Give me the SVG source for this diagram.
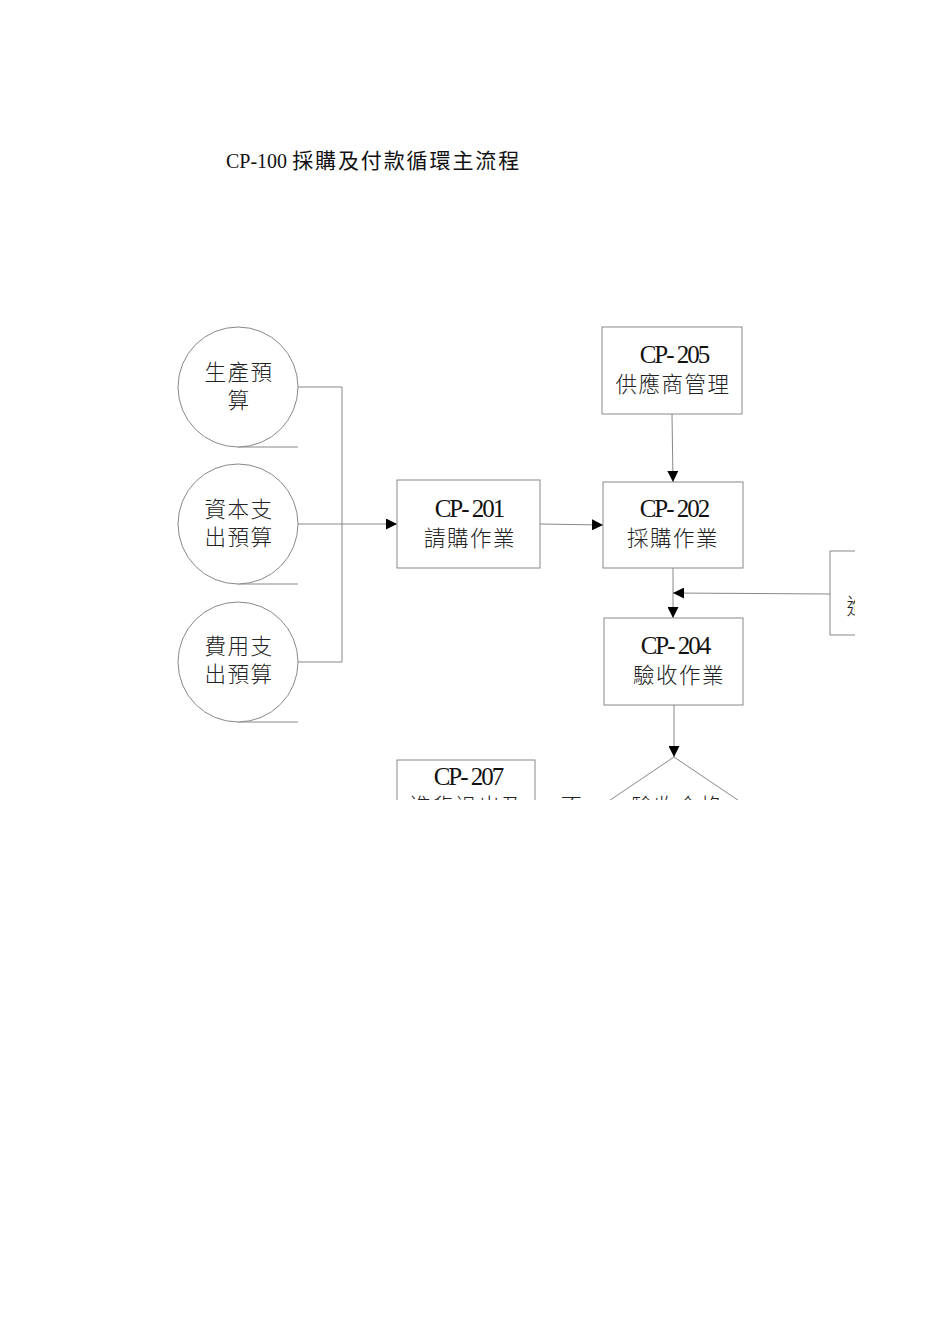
<svg xmlns="http://www.w3.org/2000/svg" width="950" height="1344" viewBox="0 0 950 1344">
<style>
.shape{fill:#fff;stroke:#888;stroke-width:1}
.ln{fill:none;stroke:#888;stroke-width:1}
.code{font-family:"Liberation Serif",serif;font-size:25px;letter-spacing:-2px;fill:#111;text-anchor:middle}
.zh{font-family:"Noto Sans CJK TC","Noto Sans CJK SC",sans-serif;font-size:21.5px;letter-spacing:1.5px;fill:#222;text-anchor:middle;font-weight:300}
.title{font-family:"Liberation Serif","Noto Sans CJK TC",serif;font-size:20px;fill:#111}
.titlezh{font-family:"Noto Sans CJK TC",sans-serif;font-size:21px;letter-spacing:1.9px;fill:#111}
</style>
<defs>
<marker id="ah" viewBox="0 0 10 10" refX="10" refY="5" markerWidth="11" markerHeight="11" markerUnits="userSpaceOnUse" orient="auto">
<path d="M0,0 L10,5 L0,10 Z" fill="#000"/>
</marker>
<clipPath id="clip"><rect x="0" y="0" width="855" height="800"/></clipPath>
</defs>
<rect width="950" height="1344" fill="#fff"/>
<text x="226" y="168" class="title">CP-100 <tspan class="titlezh">採購及付款循環主流程</tspan></text>
<g clip-path="url(#clip)">
<g id="connectors">
<path class="ln" d="M298,387 H342 V662 H298"/>
<line class="ln" x1="238" y1="447" x2="298" y2="447"/>
<line class="ln" x1="238" y1="584" x2="298" y2="584"/>
<line class="ln" x1="238" y1="722" x2="298" y2="722"/>
<line class="ln" x1="298" y1="524" x2="397" y2="524" marker-end="url(#ah)"/>
<line class="ln" x1="540" y1="524" x2="603" y2="525" marker-end="url(#ah)"/>
<line class="ln" x1="672" y1="414" x2="673" y2="482" marker-end="url(#ah)"/>
<line class="ln" x1="673" y1="568" x2="673" y2="618" marker-end="url(#ah)"/>
<line class="ln" x1="830" y1="594" x2="673" y2="593" marker-end="url(#ah)"/>
<line class="ln" x1="674" y1="705" x2="674" y2="757" marker-end="url(#ah)"/>
</g>
<g id="n-prod">
<circle class="shape" cx="238" cy="387" r="60"/>
<text class="zh" x="239" y="380">生產預</text>
<text class="zh" x="239" y="408">算</text>
</g>
<g id="n-cap">
<circle class="shape" cx="238" cy="524" r="60"/>
<text class="zh" x="239" y="517">資本支</text>
<text class="zh" x="239" y="545">出預算</text>
</g>
<g id="n-exp">
<circle class="shape" cx="238" cy="662" r="60"/>
<text class="zh" x="239" y="654">費用支</text>
<text class="zh" x="239" y="682">出預算</text>
</g>
<g id="n-201">
<rect class="shape" x="397" y="480" width="143" height="88"/>
<text class="code" x="469" y="517">CP- 201</text>
<text class="zh" x="470" y="546">請購作業</text>
</g>
<g id="n-205">
<rect class="shape" x="602" y="327" width="140" height="87"/>
<text class="code" x="674" y="363">CP- 205</text>
<text class="zh" x="673" y="392">供應商管理</text>
</g>
<g id="n-202">
<rect class="shape" x="603" y="482" width="140" height="86"/>
<text class="code" x="674" y="517">CP- 202</text>
<text class="zh" x="673" y="546">採購作業</text>
</g>
<g id="n-204">
<rect class="shape" x="604" y="618" width="139" height="87"/>
<text class="code" x="675" y="654">CP- 204</text>
<text class="zh" x="679" y="683">驗收作業</text>
</g>
<g id="n-right">
<rect class="shape" x="830" y="551" width="80" height="84"/>
<text class="zh" x="858" y="614">進</text>
</g>
<g id="n-207">
<rect class="shape" x="397" y="760" width="138" height="80"/>
<text class="code" x="468" y="785">CP- 207</text>
<text class="zh" x="467" y="814">進貨退出及</text>
</g>
<g id="n-dec">
<polygon class="shape" points="674,757 760,815 674,873 588,815"/>
<text class="zh" x="677" y="814">驗收合格</text>
</g>
<text class="zh" x="572" y="814">不</text>
</g>
</svg>
